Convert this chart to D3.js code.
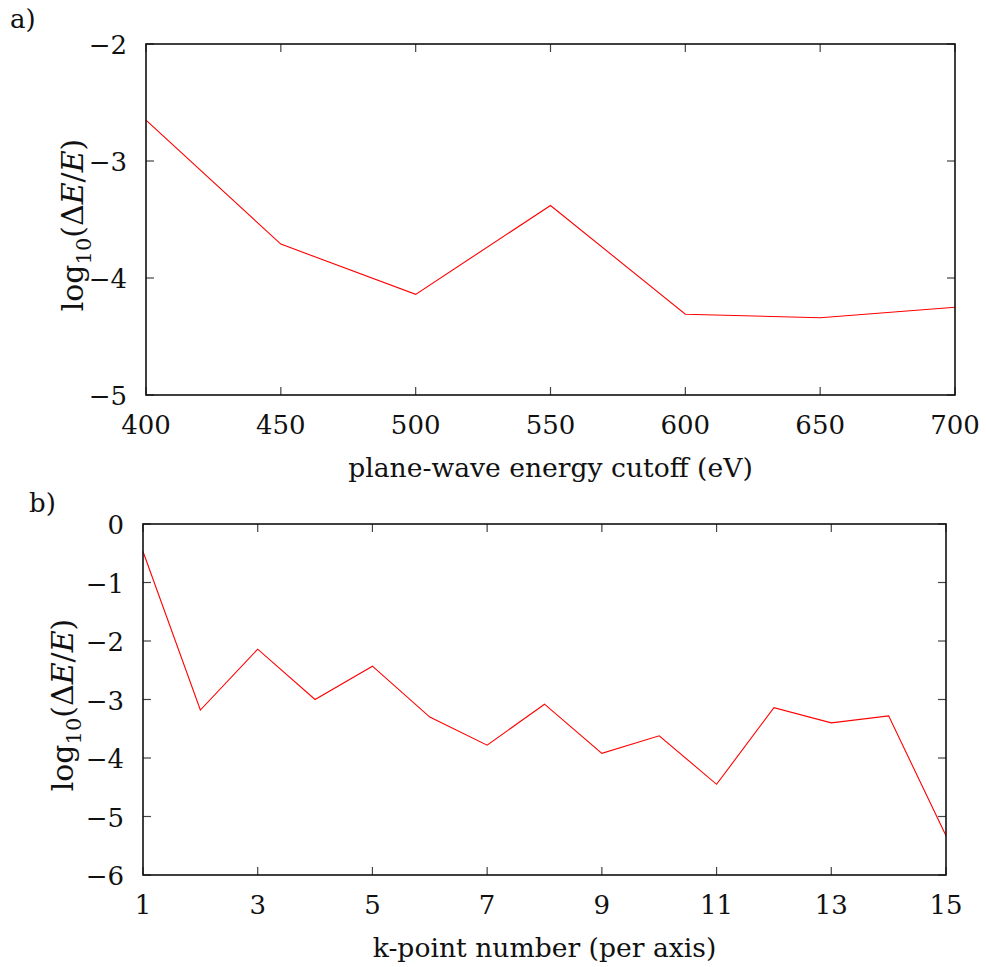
<!DOCTYPE html>
<html><head><meta charset="utf-8">
<script src="https://cdn.jsdelivr.net/npm/d3@7"></script>
<style>body{margin:0;background:#fff}svg{display:block}</style>
</head><body>
<svg id="c" width="986" height="967"></svg>
<script>
// Panel a data
const cutoffs = [400, 450, 500, 550, 600, 650, 700];
const cutoffErr = [-2.65, -3.71, -4.14, -3.38, -4.31, -4.34, -4.25];
const cutoffTicks = [400, 450, 500, 550, 600, 650, 700];
const cutoffYTicks = [-2, -3, -4, -5];
// Panel b data
const kpoints = [1,2,3,4,5,6,7,8,9,10,11,12,13,14,15];
const kpointErr = [-0.47, -3.18, -2.14, -3.0, -2.43, -3.30, -3.78, -3.08, -3.92, -3.62, -4.45, -3.14, -3.40, -3.28, -5.33];
const kTicks = [1,3,5,7,9,11,13,15];
const kYTicks = [0,-1,-2,-3,-4,-5,-6];

const FONT = "'DejaVu Serif'";
const svg = d3.select("#c").attr("font-family", FONT).style("font-family", FONT);
const fs = 26;

function panel(cfg){
  const x = d3.scaleLinear().domain(cfg.xd).range([cfg.l, cfg.r]);
  const y = d3.scaleLinear().domain(cfg.yd).range([cfg.b, cfg.t]);
  const g = svg.append("g");
  const tl = 8;
  cfg.xt.forEach(v=>{
    g.append("line").attr("x1",x(v)).attr("x2",x(v)).attr("y1",cfg.b).attr("y2",cfg.b-tl).attr("stroke","#444").attr("stroke-width",1.2);
    g.append("line").attr("x1",x(v)).attr("x2",x(v)).attr("y1",cfg.t).attr("y2",cfg.t+tl).attr("stroke","#444").attr("stroke-width",1.2);
    g.append("text").attr("x",x(v)).attr("y",cfg.b+39).attr("text-anchor","middle").attr("font-size",fs).attr("font-family",FONT).attr("fill","#111").text(d3.format("d")(v));
  });
  cfg.yt.forEach(v=>{
    g.append("line").attr("x1",cfg.l).attr("x2",cfg.l+tl).attr("y1",y(v)).attr("y2",y(v)).attr("stroke","#444").attr("stroke-width",1.2);
    g.append("line").attr("x1",cfg.r).attr("x2",cfg.r-tl).attr("y1",y(v)).attr("y2",y(v)).attr("stroke","#444").attr("stroke-width",1.2);
    g.append("text").attr("x",cfg.l-19).attr("y",y(v)+10).attr("text-anchor","end").attr("font-size",fs).attr("font-family",FONT).attr("fill","#111").text(v<0?"\u2212"+(-v):String(v));
  });
  const line = d3.line().x((d,i)=>x(cfg.xs[i])).y(d=>y(d));
  g.append("path").datum(cfg.ys).attr("d",line).attr("fill","none").attr("stroke","#ff0000").attr("stroke-width",1.1);
  g.append("rect").attr("x",cfg.l).attr("y",cfg.t).attr("width",cfg.r-cfg.l).attr("height",cfg.b-cfg.t).attr("fill","none").attr("stroke","#111").attr("stroke-width",1.6);
  g.append("text").attr("x",(cfg.l+cfg.r)/2).attr("y",cfg.b+82).attr("text-anchor","middle").attr("font-size",26.6).attr("font-family",FONT).attr("fill","#111").text(cfg.xlabel);
  const yl = g.append("text").attr("transform",`translate(${cfg.ylx},${cfg.ylc}) rotate(-90)`).attr("text-anchor","middle").attr("font-size",30).attr("font-family",FONT).attr("fill","#111");
  yl.append("tspan").text("log");
  yl.append("tspan").attr("font-size",21).attr("dy",8).text("10");
  yl.append("tspan").attr("dy",-8).text("(\u0394");
  yl.append("tspan").attr("font-style","italic").text("E");
  yl.append("tspan").text("/");
  yl.append("tspan").attr("font-style","italic").text("E");
  yl.append("tspan").text(")");
  g.append("text").attr("x",cfg.px).attr("y",cfg.py).attr("font-size",fs).attr("font-family",FONT).attr("fill","#111").text(cfg.letter);
}

panel({xd:[400,700], yd:[-5,-2], l:146, r:955, t:44, b:395, xs:cutoffs, ys:cutoffErr,
  xt:cutoffTicks, yt:cutoffYTicks, xlabel:"plane-wave energy cutoff (eV)", ylx:83, ylc:225, letter:"a)", px:10, py:28});
panel({xd:[1,15], yd:[-6,0], l:143, r:946, t:524, b:875, xs:kpoints, ys:kpointErr,
  xt:kTicks, yt:kYTicks, xlabel:"k-point number (per axis)", ylx:73, ylc:705, letter:"b)", px:29, py:512});
</script>
</body></html>
